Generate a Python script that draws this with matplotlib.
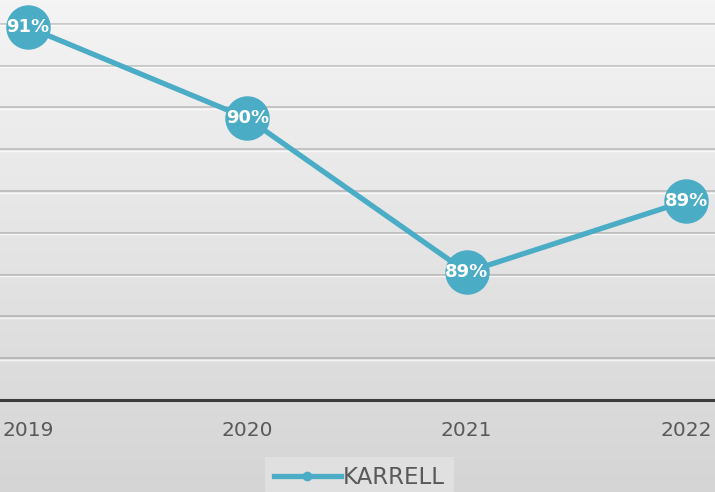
import numpy as np
import matplotlib
matplotlib.use("Agg")
import matplotlib.pyplot as plt
import matplotlib.transforms as mtransforms
from matplotlib.lines import Line2D

years = ["2019", "2020", "2021", "2022"]
karrell = [0.9146, 0.9037, 0.8853, 0.8938]
series_name = "KARRELL"

line_color = "#4bacc6"
text_gray = "#595959"

fig = plt.figure(figsize=(7.15, 4.92), dpi=100)

# soft vertical gradient behind everything
bg = fig.add_axes([0, 0, 1, 1], zorder=-10)
grad = np.linspace(0, 1, 256).reshape(-1, 1)
top = np.array([0.957, 0.957, 0.957])
bottom = np.array([0.835, 0.835, 0.835])
img = top + (bottom - top) * grad[..., None]
bg.imshow(img, aspect="auto", extent=[0, 1, 0, 1])
bg.axis("off")

ax = fig.add_axes([0, 92 / 492, 1, 400 / 492])
ax.set_facecolor("none")

x = np.arange(len(years))
ax.set_xlim(-0.1277, 3.132)
ax.set_ylim(0.87, 0.91785)

# embossed gridlines: dark line with a light one just under it
shift = mtransforms.offset_copy(ax.transData, fig=fig, x=0, y=-1.5, units="dots")
for g in np.arange(0.875, 0.9151, 0.005):
    ax.axhline(g, color="black", alpha=0.17, lw=1.4, zorder=1)
    ax.plot([-1, 5], [g, g], color="white", alpha=0.7, lw=1.0, zorder=1,
            transform=shift)

ax.plot(x, karrell, color=line_color, lw=3.8, marker="o", markersize=31,
        zorder=3, solid_capstyle="round")

for xi, v in zip(x, karrell):
    ax.text(xi, v, f"{v:.0%}", color="white", fontsize=13, fontweight="bold",
            ha="center", va="center", zorder=4)

for s in ["top", "left", "right"]:
    ax.spines[s].set_visible(False)
ax.spines["bottom"].set_color("#3c3c3c")
ax.spines["bottom"].set_linewidth(2.2)
ax.set_yticks([])
ax.set_xticks(x)
ax.set_xticklabels(years, color=text_gray, fontsize=14.5)
ax.tick_params(axis="x", length=0, pad=15)

handle = Line2D([], [], color=line_color, lw=3.8, marker="o", markersize=6)
leg = fig.legend([handle], [series_name], loc="upper center",
                 bbox_to_anchor=(0.503, 1 - 457 / 492), frameon=True,
                 facecolor="#e3e3e3", edgecolor="none", fancybox=False,
                 fontsize=16.5, handlelength=2.9, handletextpad=0.1,
                 borderpad=0.4, borderaxespad=0)
for t in leg.get_texts():
    t.set_color(text_gray)

fig.savefig("out.png", dpi=100)
